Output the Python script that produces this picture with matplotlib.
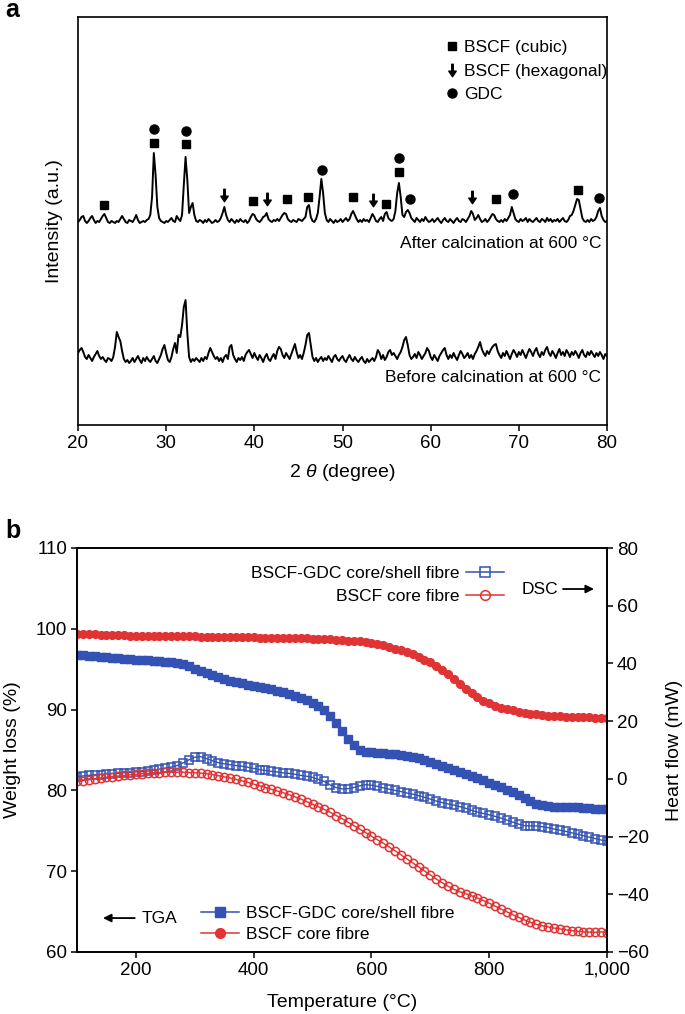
import numpy as np
import matplotlib
matplotlib.use('Agg')
import matplotlib.pyplot as plt
from matplotlib.path import Path
from matplotlib.lines import Line2D
from matplotlib.ticker import FuncFormatter

plt.rcParams['font.family'] = ['Liberation Sans', 'DejaVu Sans']
plt.rcParams['mathtext.fontset'] = 'custom'
plt.rcParams['mathtext.rm'] = 'Liberation Sans'
plt.rcParams['mathtext.it'] = 'Liberation Sans:italic'

# ---- panel a: XRD, 2theta grid 20..80 step 0.2 ----
two_theta = np.round(np.arange(20, 80.01, 0.2), 1)

after_600 = [
    203, 205, 208, 209, 204, 202, 204, 207, 209, 205,
    202, 204, 203, 206, 209, 211, 207, 203, 202, 204,
    203, 202, 204, 203, 206, 209, 206, 203, 202, 205,
    204, 203, 206, 210, 205, 202, 203, 204, 203, 205,
    206, 210, 228, 272, 250, 218, 207, 204, 203, 202,
    204, 203, 205, 207, 204, 203, 209, 206, 204, 210,
    240, 268, 245, 212, 218, 222, 210, 204, 203, 205,
    204, 202, 205, 203, 206, 204, 202, 203, 205, 203,
    204, 207, 212, 218, 210, 205, 203, 206, 204, 202,
    205, 203, 206, 204, 203, 205, 202, 204, 208, 211,
    210, 206, 204, 203, 205, 208, 209, 212, 206, 204,
    203, 205, 204, 206, 204, 207, 210, 212, 211, 206,
    204, 203, 205, 204, 203, 206, 205, 204, 206, 208,
    218, 220, 208, 204, 203, 206, 212, 228, 246, 232,
    212, 205, 203, 206, 204, 202, 205, 203, 204, 206,
    203, 205, 207, 204, 206, 211, 214, 210, 206, 203,
    205, 203, 206, 204, 205, 203, 207, 211, 208, 204,
    203, 206, 208, 204, 211, 213, 207, 205, 204, 206,
    214, 232, 242, 228, 210, 208, 213, 215, 212, 207,
    205, 203, 207, 205, 203, 206, 204, 208, 205, 203,
    204, 206, 203, 205, 207, 204, 202, 205, 207, 204,
    203, 206, 204, 202, 205, 207, 204, 203, 206, 205,
    203, 206, 209, 214, 211, 205, 207, 210, 206, 203,
    204, 206, 203, 205, 208, 211, 210, 206, 204, 203,
    205, 203, 206, 204, 207, 210, 218, 212, 206, 204,
    203, 206, 204, 205, 207, 203, 206, 204, 203, 205,
    207, 204, 203, 206, 205, 203, 207, 204, 206, 203,
    205, 204, 206, 203, 205, 207, 204, 203, 205, 209,
    210, 214, 220, 226, 225, 216, 207, 204, 203, 205,
    203, 206, 204, 205, 208, 214, 217, 209, 205, 203,
    204]

before_600 = [
    72, 75, 77, 73, 68, 66, 70, 67, 64, 68,
    71, 74, 69, 66, 68, 65, 63, 67, 66, 64,
    68, 78, 93, 88, 84, 74, 66, 63, 65, 62,
    64, 67, 63, 66, 69, 65, 62, 67, 64, 68,
    65, 63, 66, 69, 64, 62, 66, 70, 76, 80,
    72, 65, 63, 68, 76, 82, 72, 90, 88, 100,
    118, 125, 92, 68, 63, 66, 64, 67, 65, 63,
    67, 64, 68, 66, 72, 77, 73, 69, 66, 68,
    64, 67, 63, 68, 70, 66, 78, 80, 70, 66,
    63, 67, 65, 68, 64, 70, 73, 75, 71, 67,
    72, 68, 65, 70, 67, 63, 68, 71, 66, 64,
    68, 71, 66, 74, 78, 76, 70, 67, 72, 69,
    66, 71, 76, 81, 73, 67, 70, 66, 72, 80,
    90, 92, 80, 68, 64, 67, 63, 66, 68, 64,
    67, 65, 69, 66, 63, 68, 70, 66, 64, 67,
    69, 65, 63, 67, 70, 66, 64, 68, 65, 63,
    66, 68, 64, 62, 66, 63, 65, 67, 64, 68,
    75, 72, 66, 70, 65, 68, 73, 75, 70, 72,
    69, 66, 70, 73, 78, 85, 88, 80, 70, 66,
    68, 71, 67, 73, 70, 66, 69, 72, 77, 74,
    68, 65, 70, 67, 64, 69, 72, 75, 77, 70,
    66, 70, 67, 72, 68, 65, 70, 74, 71, 67,
    69, 72, 67, 70, 66, 71, 74, 78, 83, 76,
    72, 69, 74, 71, 75, 78, 80, 81, 74, 70,
    67, 72, 69, 74, 70, 66, 71, 75, 72, 68,
    73, 70, 75, 71, 67, 72, 76, 73, 69, 74,
    77, 71, 68, 73, 70, 75, 78, 72, 69, 74,
    71, 67, 72, 76, 70, 73, 69, 75, 72, 68,
    73, 70, 74, 71, 67, 72, 75, 70, 68, 73,
    70, 74, 71, 68, 72, 69, 73, 70, 66, 71,
    69]

# phase markers (2theta, height)
cubic_tt = [22.95, 28.6, 32.25, 39.85, 43.7, 46.1, 51.2, 54.9, 56.4, 67.4, 76.75]
cubic_y = [220, 282, 281, 224, 226, 228, 228, 221, 253, 226, 235]
hex_tt = [36.55, 41.4, 53.5, 64.7]
hex_y = [230, 226, 225, 228]
gdc_tt = [28.6, 32.25, 47.7, 56.4, 57.7, 69.3, 79.1]
gdc_y = [296, 294, 255, 267, 226, 231, 227]

# ---- panel b: TGA / DSC, 100..1000 C step 10 ----
temps = np.arange(100, 1001, 10)

tga_gdc = [
    96.8, 96.75, 96.65, 96.6, 96.5, 96.45, 96.4, 96.35, 96.3, 96.25,
    96.2, 96.15, 96.1, 96.05, 96.0, 95.95, 95.85, 95.75, 95.6, 95.35,
    95.05, 94.8, 94.55, 94.3, 94.05, 93.8, 93.6, 93.4, 93.25, 93.1,
    92.95, 92.8, 92.65, 92.5, 92.35, 92.15, 91.95, 91.7, 91.45, 91.2,
    90.85, 90.4, 89.9, 89.2, 88.4, 87.4, 86.4, 85.6, 85.05, 84.8,
    84.7, 84.65, 84.6, 84.55, 84.5, 84.4, 84.3, 84.15, 84.0, 83.8,
    83.55, 83.3, 83.05, 82.8, 82.55, 82.3, 82.05, 81.8, 81.55, 81.25,
    80.95, 80.7, 80.4, 80.1, 79.75, 79.4, 79.0, 78.65, 78.35, 78.15,
    78.05, 78.0, 77.95, 77.95, 77.9, 77.9, 77.85, 77.8, 77.75, 77.7,
    77.65]

tga_bscf = [
    99.4, 99.35, 99.3, 99.3, 99.25, 99.25, 99.2, 99.2, 99.2, 99.15,
    99.15, 99.1, 99.1, 99.1, 99.1, 99.1, 99.05, 99.05, 99.05, 99.05,
    99.05, 99.0, 99.0, 99.0, 99.0, 99.0, 99.0, 98.95, 98.95, 98.95,
    98.95, 98.9, 98.9, 98.9, 98.9, 98.85, 98.85, 98.85, 98.8, 98.8,
    98.75, 98.75, 98.7, 98.7, 98.65, 98.6, 98.55, 98.5, 98.45, 98.35,
    98.25, 98.1, 97.95, 97.75, 97.55, 97.35, 97.1, 96.85, 96.55, 96.2,
    95.85, 95.4, 94.95, 94.4, 93.8, 93.2, 92.6, 92.05, 91.5, 91.1,
    90.8, 90.5, 90.25, 90.05, 89.9, 89.75, 89.6, 89.5, 89.4, 89.3,
    89.25, 89.2, 89.15, 89.1, 89.1, 89.05, 89.05, 89.05, 89.0, 89.0,
    89.0]

dsc_gdc = [
    0.8, 1.0, 1.2, 1.4, 1.5, 1.7, 1.8, 1.9, 2.1, 2.2,
    2.4, 2.5, 2.7, 3.0, 3.3, 3.7, 4.1, 4.6, 5.5, 6.6,
    7.5, 7.7, 7.0, 6.3, 5.6, 5.2, 4.9, 4.6, 4.4, 4.0,
    3.6, 3.2, 2.9, 2.6, 2.4, 2.1, 1.9, 1.6, 1.2, 0.9,
    0.5, -0.2, -0.9, -2.1, -3.0, -3.5, -3.4, -3.0, -2.4, -2.0,
    -2.2, -2.6, -3.1, -3.6, -4.0, -4.4, -4.9, -5.3, -5.8, -6.4,
    -7.0, -7.7, -8.2, -8.7, -9.1, -9.6, -10.2, -10.9, -11.5, -12.0,
    -12.5, -13.0, -13.6, -14.3, -15.0, -15.7, -16.2, -16.3, -16.3, -16.6,
    -16.9, -17.4, -17.8, -18.2, -18.7, -19.2, -19.7, -20.2, -20.7, -21.2,
    -21.6]

dsc_bscf = [
    -0.9, -0.6, -0.3, 0.0, 0.3, 0.6, 0.8, 1.0, 1.2, 1.4,
    1.6, 1.8, 1.9, 2.1, 2.2, 2.3, 2.3, 2.3, 2.3, 2.2,
    2.1, 2.0, 1.8, 1.5, 1.1, 0.7, 0.3, -0.2, -0.7, -1.2,
    -1.8, -2.4, -3.0, -3.6, -4.2, -4.8, -5.5, -6.2, -7.0, -7.9,
    -8.8, -9.7, -10.6, -11.6, -12.7, -13.8, -15.0, -16.2, -17.4, -18.6,
    -19.9, -21.1, -22.3, -23.6, -24.9, -26.3, -27.7, -29.1, -30.5, -31.9,
    -33.3, -34.7, -36.0, -37.2, -38.3, -39.1, -39.8, -40.5, -41.3, -42.2,
    -43.1, -44.1, -45.1, -46.1, -47.1, -48.0, -48.9, -49.7, -50.4, -50.9,
    -51.3, -51.7, -52.0, -52.3, -52.6, -52.8, -53.0, -53.1, -53.2, -53.0,
    -53.4]

blue = '#3352b3'
red = '#e03333'
fs_tick = 13.5
fs_lab = 14
fs_txt = 12.5

# down arrow marker (stem + head)
arrow_marker = Path([(-0.12, 1.0), (0.12, 1.0), (0.12, -0.1), (0.6, -0.1),
                     (0.0, -1.0), (-0.6, -0.1), (-0.12, -0.1), (-0.12, 1.0)],
                    [Path.MOVETO] + [Path.LINETO] * 6 + [Path.CLOSEPOLY])

fig = plt.figure(figsize=(6.85, 10.14), dpi=100)

# ======== panel a ========
ax1 = fig.add_axes([78 / 685, 1 - 425 / 1014, 529 / 685, 408 / 1014])
ax1.plot(two_theta, after_600, color='black', lw=1.4)
ax1.plot(two_theta, before_600, color='black', lw=1.4)
ax1.plot(cubic_tt, cubic_y, ls='none', marker='s', ms=6, color='black')
ax1.plot(hex_tt, hex_y, ls='none', marker=arrow_marker, ms=9, color='black')
ax1.plot(gdc_tt, gdc_y, ls='none', marker='o', ms=6.5, color='black')
ax1.set_xlim(20, 80)
ax1.set_ylim(0, 408)
ax1.set_xticks(range(20, 81, 10))
ax1.set_yticks([])
ax1.tick_params(axis='x', direction='out', length=4, width=1.1, labelsize=fs_tick, pad=3)
for s in ax1.spines.values():
    s.set_linewidth(1.2)
ax1.set_xlabel('2 $\\theta$ (degree)', fontsize=fs_lab, va='center')
ax1.xaxis.set_label_coords(0.5, -0.1176)
ax1.set_ylabel('Intensity (a.u.)', fontsize=fs_lab, va='center')
ax1.yaxis.set_label_coords(-0.0435, 0.5)

ax1.text(0.9887, 0.446, 'After calcination at 600 °C', transform=ax1.transAxes,
         ha='right', va='center', fontsize=fs_txt)
ax1.text(0.9887, 0.1176, 'Before calcination at 600 °C', transform=ax1.transAxes,
         ha='right', va='center', fontsize=fs_txt)

h_a = [Line2D([], [], ls='none', marker='s', ms=6, color='black'),
       Line2D([], [], ls='none', marker=arrow_marker, ms=9, color='black'),
       Line2D([], [], ls='none', marker='o', ms=6.5, color='black')]
ax1.legend(h_a, ['BSCF (cubic)', 'BSCF (hexagonal)', 'GDC'], loc='upper left',
           bbox_to_anchor=(0.694, 0.943), frameon=False, handlelength=0.8,
           handletextpad=0.3, labelspacing=0.48, borderpad=0, borderaxespad=0,
           fontsize=fs_txt)

fig.text(5 / 685, 1 - 10 / 1014, 'a', fontsize=18, fontweight='bold', va='center')

# ======== panel b ========
ax2 = fig.add_axes([77 / 685, 1 - 952 / 1014, 530 / 685, 404 / 1014])
ax2.plot(temps, tga_gdc, color=blue, marker='s', ms=5.2, lw=1.1)
ax2.plot(temps, tga_bscf, color=red, marker='o', ms=5.6, lw=1.1)
ax2.set_xlim(100, 1000)
ax2.set_ylim(60, 110)
ax2.set_xticks(range(200, 1001, 200))
ax2.xaxis.set_major_formatter(FuncFormatter(lambda v, p: f'{v:,.0f}'))
ax2.set_yticks(range(60, 111, 10))
ax2.tick_params(direction='out', length=4, width=1.1, labelsize=fs_tick, pad=3)
ax2.set_xlabel('Temperature (°C)', fontsize=fs_lab, va='center')
ax2.xaxis.set_label_coords(0.5, -0.126)
ax2.set_ylabel('Weight loss (%)', fontsize=fs_lab, va='center')
ax2.yaxis.set_label_coords(-0.1226, 0.5)

ax3 = ax2.twinx()
ax3.plot(temps, dsc_gdc, color=blue, marker='s', mfc='none', ms=6, mew=1.1, lw=1)
ax3.plot(temps, dsc_bscf, color=red, marker='o', mfc='none', ms=6, mew=1.1, lw=1)
ax3.set_ylim(-60, 80)
ax3.set_yticks(range(-60, 81, 20))
ax3.tick_params(direction='out', length=4, width=1.1, labelsize=fs_tick, pad=3)
ax3.set_ylabel('Heart flow (mW)', fontsize=fs_lab, va='center', rotation=90)
ax3.yaxis.set_label_coords(1.128, 0.5)
for a in (ax2, ax3):
    for s in a.spines.values():
        s.set_linewidth(1.2)

h_dsc = [Line2D([], [], color=blue, marker='s', mfc='none', ms=7, mew=1.1, lw=1.1),
         Line2D([], [], color=red, marker='o', mfc='none', ms=7, mew=1.1, lw=1.1)]
leg1 = ax3.legend(h_dsc, ['BSCF-GDC core/shell fibre', 'BSCF core fibre'],
                  loc='upper right', bbox_to_anchor=(0.806, 0.955), markerfirst=False,
                  frameon=False, handlelength=2.2, handletextpad=0.35,
                  labelspacing=0.45, borderpad=0, borderaxespad=0, fontsize=fs_txt)
ax3.add_artist(leg1)
h_tga = [Line2D([], [], color=blue, marker='s', ms=7, lw=1.1),
         Line2D([], [], color=red, marker='o', ms=7, lw=1.1)]
ax3.legend(h_tga, ['BSCF-GDC core/shell fibre', 'BSCF core fibre'],
           loc='lower left', bbox_to_anchor=(0.234, 0.025), frameon=False,
           handlelength=2.2, handletextpad=0.4, labelspacing=0.35, borderpad=0,
           borderaxespad=0, fontsize=fs_txt)

ax3.annotate('', xy=(0.9755, 0.8985), xytext=(0.917, 0.8985), xycoords='axes fraction',
             arrowprops=dict(arrowstyle='-|>', color='black', lw=1.3,
                             mutation_scale=12, shrinkA=0, shrinkB=0))
ax3.text(0.873, 0.8985, 'DSC', transform=ax3.transAxes, ha='center', va='center',
         fontsize=fs_txt)
ax3.annotate('', xy=(0.049, 0.084), xytext=(0.109, 0.084), xycoords='axes fraction',
             arrowprops=dict(arrowstyle='-|>', color='black', lw=1.3,
                             mutation_scale=12, shrinkA=0, shrinkB=0))
ax3.text(0.1226, 0.084, 'TGA', transform=ax3.transAxes, ha='left', va='center',
         fontsize=fs_txt)

fig.text(5 / 685, 1 - 531 / 1014, 'b', fontsize=18, fontweight='bold', va='center')

fig.savefig('out.png', dpi=100)
